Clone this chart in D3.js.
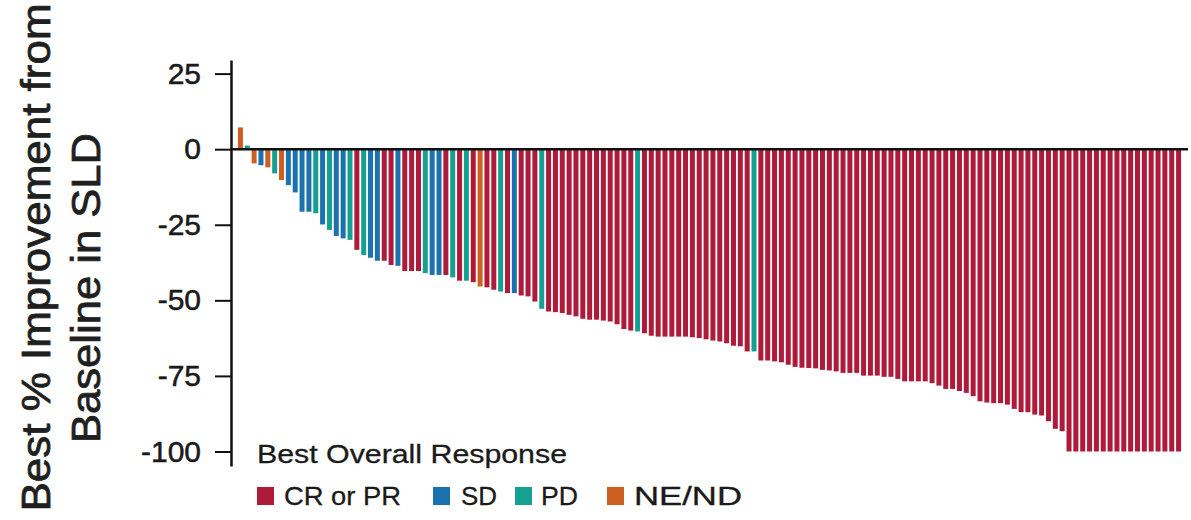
<!DOCTYPE html>
<html>
<head>
<meta charset="utf-8">
<script src="https://cdn.jsdelivr.net/npm/d3@7"></script>
<style>
  body { margin: 0; background: #fff; }
  svg { display: block; font-family: "Liberation Sans", Arial, Helvetica, sans-serif; }
</style>
</head>
<body>
<div id="chart"></div>
<script>
// best % change from baseline in SLD, one value per patient (sorted waterfall)
const values = [
  7.2, 1.2, -4.7, -5.3, -6, -8, -10.2, -11.9, -14.3, -20.7,
  -20.7, -21.2, -24.9, -26.7, -28.7, -29.5, -30, -33.3, -35, -35.9,
  -36.9, -36.9, -38.3, -38.6, -40.3, -40.3, -40.3, -41, -41.6, -41.6,
  -41.6, -42.4, -43.5, -43.5, -44, -45.4, -45.7, -46.5, -47.1, -47.6,
  -47.6, -48.4, -48.7, -50.4, -52.8, -53.7, -53.9, -54.2, -54.8, -55.3,
  -56.1, -56.4, -56.4, -56.7, -57, -57.9, -59.5, -60, -60.3, -60.9,
  -61.7, -62, -62, -62, -62, -62, -62.2, -62.5, -62.9, -63.3,
  -63.6, -64.2, -65, -65.2, -66.9, -66.9, -69.9, -69.9, -70.2, -70.5,
  -71.3, -72, -72.3, -72.4, -72.5, -73, -73.2, -73.5, -74, -74,
  -74, -74.9, -74.9, -74.9, -75.3, -75.3, -76, -76.8, -76.8, -76.8,
  -76.8, -77.4, -78.2, -79.3, -79.3, -80, -80.6, -81.7, -83.4, -83.8,
  -84, -84, -84.5, -85.9, -87, -87, -87.8, -88.1, -90, -92.5,
  -93.3, -100, -100, -100, -100, -100, -100, -100, -100, -100,
  -100, -100, -100, -100, -100, -100, -100, -100
];

// response per bar: R = CR or PR, S = SD, P = PD, N = NE/ND
const responses = (
  "NPNSNPNSSS" +
  "SPSPSSPRPS" +
  "SRRSRRRPSS" +
  "RPRPRNRRPR" +
  "SRRRPRRRRR" +
  "RRRRRRRRPR" +
  "RRRRRRRRRR" +
  "RRRRRPRRRR" +
  "RRRRRRRRRR" +
  "RRRRRRRRRR" +
  "RRRRRRRRRR" +
  "RRRRRRRRRR" +
  "RRRRRRRRRR" +
  "RRRRRRRR"
).split("");

const categories = ["R", "S", "P", "N"];
const categoryLabels = ["CR or PR", "SD", "PD", "NE/ND"];
const colors = ["#ae1a39", "#1a73ae", "#16a092", "#cf5f20"];

const yTicks = [25, 0, -25, -50, -75, -100];

const width = 1191, height = 520;

let svg = d3.select("#chart")
            .append("svg")
            .attr("width", width)
            .attr("height", height);

let x = d3.scaleBand()
          .domain(d3.range(values.length))
          .range([237, 1182])
          .paddingInner(0.27)
          .paddingOuter(0.135);

let y = d3.scaleLinear()
          .domain([29.5, -104.8])
          .range([60, 466]);

let color = d3.scaleOrdinal()
              .domain(categories)
              .range(colors);

// bars
svg.append("g")
   .selectAll("rect")
   .data(values)
   .enter()
   .append("rect")
   .attr("x", function(d, i) { return x(i); })
   .attr("width", x.bandwidth())
   .attr("y", function(d) { return Math.min(y(0), y(d)); })
   .attr("height", function(d) { return Math.abs(y(d) - y(0)); })
   .attr("fill", function(d, i) { return color(responses[i]); });

// y axis
let yAxis = svg.append("g")
   .attr("transform", "translate(231,0)")
   .call(d3.axisLeft(y)
           .tickValues(yTicks)
           .tickFormat(function(d) { return String(d); })
           .tickSize(16).tickPadding(14).tickSizeOuter(0));

yAxis.select(".domain").attr("stroke", "#111").attr("stroke-width", 2.5);
yAxis.selectAll(".tick line").attr("stroke", "#111").attr("stroke-width", 2);
yAxis.selectAll(".tick text")
     .attr("fill", "#1a1a1a")
     .attr("stroke", "#1a1a1a")
     .attr("stroke-width", 0.5)
     .style("font-size", "30px")
     .style("font-family", "'Liberation Sans', Arial, sans-serif");

// zero line
svg.append("line")
   .attr("x1", 231)
   .attr("x2", 1188)
   .attr("y1", y(0))
   .attr("y2", y(0))
   .attr("stroke", "#111")
   .attr("stroke-width", 2.5);

// y axis title, two lines
svg.append("text")
   .attr("transform", "translate(50,257.5) rotate(-90)")
   .attr("text-anchor", "middle")
   .attr("textLength", 508)
   .attr("lengthAdjust", "spacingAndGlyphs")
   .style("font-size", "40px")
   .attr("fill", "#1f1f1f")
   .attr("stroke", "#1f1f1f")
   .attr("stroke-width", 0.8)
   .text("Best % Improvement from");

svg.append("text")
   .attr("transform", "translate(100,288) rotate(-90)")
   .attr("text-anchor", "middle")
   .attr("textLength", 310)
   .attr("lengthAdjust", "spacingAndGlyphs")
   .style("font-size", "40px")
   .attr("fill", "#1f1f1f")
   .attr("stroke", "#1f1f1f")
   .attr("stroke-width", 0.8)
   .text("Baseline in SLD");

// legend
svg.append("text")
   .attr("x", 257)
   .attr("y", 463)
   .attr("textLength", 310)
   .attr("lengthAdjust", "spacingAndGlyphs")
   .style("font-size", "25px")
   .attr("fill", "#1a1a1a")
   .attr("stroke", "#1a1a1a")
   .attr("stroke-width", 0.3)
   .text("Best Overall Response");

const legendBoxX = [257, 433, 515, 607];
const legendTextX = [284, 461, 541, 634];
const legendTextW = [117, 36, 37, 108];

let legend = svg.append("g");

legend.selectAll("rect")
      .data(categories)
      .enter()
      .append("rect")
      .attr("x", function(d, i) { return legendBoxX[i]; })
      .attr("y", 487)
      .attr("width", 17)
      .attr("height", 18)
      .attr("fill", function(d) { return color(d); });

legend.selectAll("text")
      .data(categoryLabels)
      .enter()
      .append("text")
      .attr("x", function(d, i) { return legendTextX[i]; })
      .attr("y", 505)
      .attr("textLength", function(d, i) { return legendTextW[i]; })
      .attr("lengthAdjust", "spacingAndGlyphs")
      .style("font-size", "25px")
      .attr("fill", "#1a1a1a")
      .attr("stroke", "#1a1a1a")
      .attr("stroke-width", 0.3)
      .text(function(d) { return d; });
</script>
</body>
</html>
